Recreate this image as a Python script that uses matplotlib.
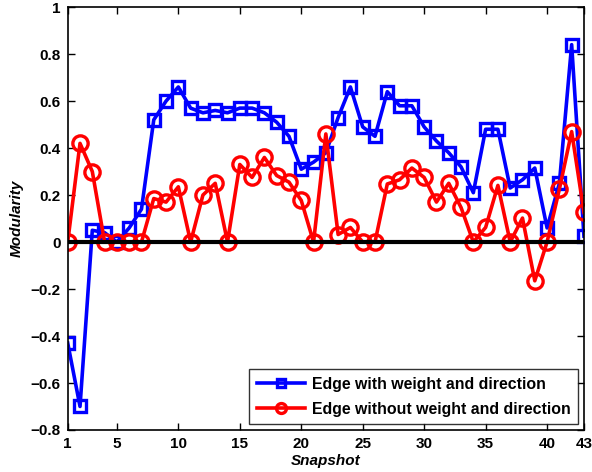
import matplotlib
matplotlib.use("Agg")
import matplotlib.pyplot as plt
import numpy as np

# snapshot index
snapshots = np.arange(1, 44)

# modularity, edges with weight and direction
mod_weighted = [
    -0.43, -0.70, 0.05, 0.04, 0.00, 0.06, 0.14, 0.52, 0.60, 0.66,
    0.57, 0.55, 0.56, 0.55, 0.57, 0.57, 0.55, 0.51, 0.45, 0.31,
    0.34, 0.38, 0.53, 0.66, 0.49, 0.45, 0.64, 0.58, 0.58, 0.49,
    0.43, 0.38, 0.32, 0.21, 0.48, 0.48, 0.23, 0.265, 0.315, 0.06,
    0.25, 0.84, 0.025,
]

# modularity, edges without weight and direction
mod_plain = [
    0.00, 0.42, 0.30, 0.00, 0.00, 0.00, 0.00, 0.185, 0.17, 0.235,
    0.00, 0.20, 0.25, 0.00, 0.33, 0.275, 0.36, 0.283, 0.255, 0.177,
    0.00, 0.46, 0.032, 0.062, 0.00, 0.00, 0.247, 0.265, 0.315, 0.275,
    0.17, 0.25, 0.147, 0.00, 0.062, 0.241, 0.00, 0.102, -0.165, 0.00,
    0.225, 0.47, 0.126,
]

xticks = [1, 5, 10, 15, 20, 25, 30, 35, 40, 43]
yticks = np.round(np.arange(-0.8, 1.01, 0.2), 1)
ytick_labels = ["\u22120.8", "\u22120.6", "\u22120.4", "\u22120.2", "0",
                "0.2", "0.4", "0.6", "0.8", "1"]

plt.rcParams["font.family"] = ["Liberation Sans", "DejaVu Sans"]
plt.rcParams["font.weight"] = "bold"

fig = plt.figure(figsize=(5.92, 4.72), dpi=100)
ax = fig.add_axes([0.1144, 0.089, 0.872, 0.896])

ax.plot(snapshots, mod_weighted, color="#0000ff", lw=2.6, marker="s",
        ms=9, mfc="none", mec="#0000ff", mew=2.4,
        label="Edge with weight and direction")
ax.plot(snapshots, mod_plain, color="#ff0000", lw=2.6, marker="o",
        ms=11, mfc="none", mec="#ff0000", mew=2.4,
        label="Edge without weight and direction")
ax.axhline(0, color="black", lw=3, zorder=3)

ax.set_xlim(1, 43)
ax.set_ylim(-0.8, 1)
ax.set_xticks(xticks)
ax.set_yticks(yticks)
ax.set_yticklabels(ytick_labels)
ax.tick_params(direction="in", top=True, right=True, length=5, width=1,
               labelsize=11, pad=5)
for lbl in ax.get_xticklabels() + ax.get_yticklabels():
    lbl.set_fontweight("bold")
for sp in ax.spines.values():
    sp.set_linewidth(1.2)

ax.set_xlabel("Snapshot", fontsize=11, fontweight="bold", style="italic",
              labelpad=2)
ax.set_ylabel("Modularity", fontsize=11, fontweight="bold", style="italic",
              labelpad=5)

leg = ax.legend(loc="lower right", fontsize=11.4, frameon=True, fancybox=False,
                edgecolor="black", borderaxespad=0.35, handlelength=3.0,
                handletextpad=0.45, borderpad=0.5, labelspacing=0.6,
                markerscale=0.65)
leg.get_frame().set_linewidth(1.0)
for t in leg.get_texts():
    t.set_fontweight("bold")

fig.savefig("out.png", dpi=100)
